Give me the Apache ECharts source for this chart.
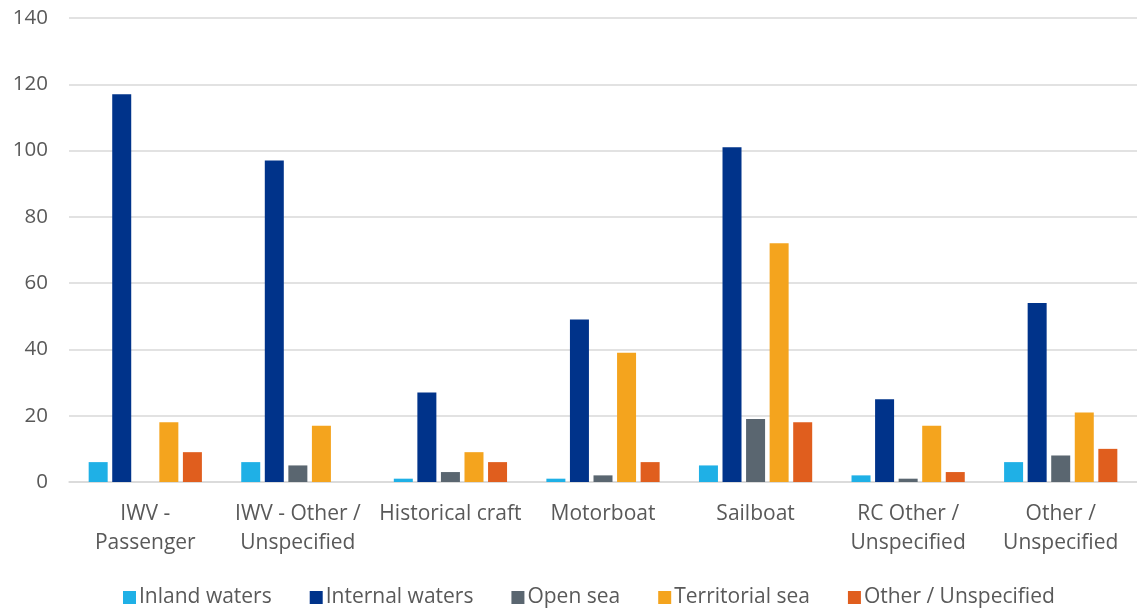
<!DOCTYPE html>
<html><head><meta charset="utf-8">
<script src="https://cdn.jsdelivr.net/npm/echarts@6/dist/echarts.min.js"></script>
<style>html,body{margin:0;padding:0;background:#fff}#c{width:1137px;height:609px}</style>
</head><body><div id="c"></div>
<script>
const categories = ["IWV -\nPassenger", "IWV - Other /\nUnspecified", "Historical craft", "Motorboat", "Sailboat", "RC Other /\nUnspecified", "Other /\nUnspecified"];
const seriesNames = ["Inland waters", "Internal waters", "Open sea", "Territorial sea", "Other / Unspecified"];
const inlandWaters = [6, 6, 1, 1, 5, 2, 6];
const internalWaters = [117, 97, 27, 49, 101, 25, 54];
const openSea = [0, 5, 3, 2, 19, 1, 8];
const territorialSea = [18, 17, 9, 39, 72, 17, 21];
const otherUnspecified = [9, 0, 6, 6, 18, 3, 10];
const colors = ["#1FB0E6", "#00338A", "#5A6670", "#F4A41E", "#E05E1E"];
const values = [inlandWaters, internalWaters, openSea, territorialSea, otherUnspecified];
const font = "Open Sans";
const chart = echarts.init(document.getElementById('c'));
chart.setOption({
  animation: false,
  color: colors,
  grid: {left: 69, right: 0, top: 18, bottom: 127},
  legend: {
    bottom: -4, left: 118, itemWidth: 13, itemHeight: 13, itemGap: 38,
    icon: 'rect',
    textStyle: {fontFamily: font, fontSize: 21, color: '#595959', padding: [0,0,0,-2]},
    data: seriesNames
  },
  xAxis: {
    type: 'category', data: categories,
    axisLine: {lineStyle: {color: '#D9D9D9', width: 1.5}},
    axisTick: {show: false},
    axisLabel: {fontFamily: font, fontSize: 21, color: '#595959', lineHeight: 29, margin: 18, interval: 0}
  },
  yAxis: {
    type: 'value', min: 0, max: 140, interval: 20,
    axisLine: {show: false}, axisTick: {show: false},
    splitLine: {lineStyle: {color: '#D9D9D9', width: 1.5}},
    axisLabel: {fontFamily: font, fontSize: 20.5, color: '#595959', margin: 21}
  },
  series: seriesNames.map((n, i) => ({
    name: n, type: 'bar', data: values[i],
    barWidth: 19, barGap: '24%',
    itemStyle: {color: colors[i]}
  }))
});
</script></body></html>
